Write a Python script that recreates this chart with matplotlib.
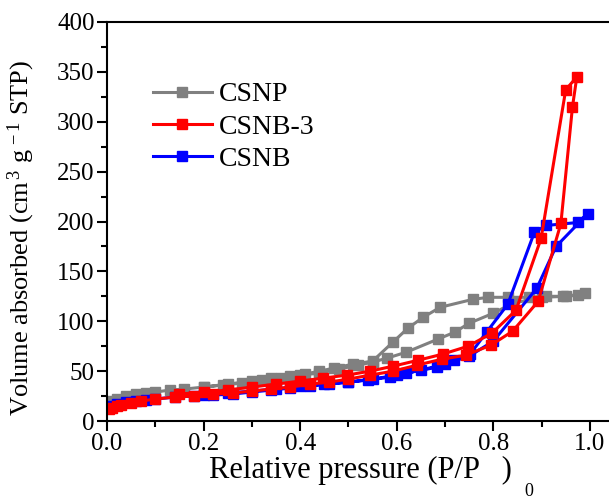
import numpy as np
import matplotlib
matplotlib.use('Agg')
import matplotlib.pyplot as plt

plt.rcParams['font.family'] = ['Liberation Serif', 'DejaVu Serif']
plt.rcParams['mathtext.fontset'] = 'custom'
plt.rcParams['mathtext.rm'] = 'Liberation Serif'
plt.rcParams['mathtext.it'] = 'Liberation Serif:italic'

# CSNP (gray): adsorption then desorption
csnp_ads_p = [0.005, 0.01, 0.02, 0.04, 0.06, 0.08, 0.10, 0.13, 0.16, 0.20, 0.24, 0.28, 0.32, 0.36,
              0.40, 0.44, 0.48, 0.52, 0.55, 0.58, 0.62, 0.685, 0.72, 0.75, 0.80, 0.84, 0.90, 0.95, 0.99]
csnp_ads_v = [18, 20, 22, 25, 27, 28, 29, 31, 32, 34, 36, 38, 41, 43,
              46, 48, 52, 56, 59, 63, 69, 82, 89, 98, 108, 118, 124, 125, 128]
csnp_des_p = [0.975, 0.945, 0.91, 0.875, 0.83, 0.79, 0.758, 0.69, 0.655, 0.623, 0.592, 0.55, 0.51,
              0.47, 0.44, 0.41, 0.38, 0.34, 0.30, 0.25, 0.20]
csnp_des_v = [126, 125, 125, 124, 124, 124, 122, 114, 104, 93, 79, 60, 57,
              53, 50, 47, 45, 43, 40, 37, 34]

# CSNB-3 (red)
csnb3_ads_p = [0.005, 0.01, 0.02, 0.03, 0.05, 0.07, 0.10, 0.14, 0.18, 0.22, 0.26, 0.30, 0.34, 0.38,
               0.42, 0.46, 0.50, 0.545, 0.593, 0.642, 0.694, 0.743, 0.795, 0.84, 0.893, 0.94, 0.964, 0.973]
csnb3_ads_v = [12, 13, 15, 16, 18, 20, 22, 24, 25, 27, 28, 30, 32, 34,
               37, 39, 42, 46, 50, 56, 62, 66, 76, 90, 120, 198, 315, 345]
csnb3_des_p = [0.95, 0.899, 0.847, 0.797, 0.748, 0.695, 0.645, 0.593, 0.545, 0.497, 0.448, 0.40,
               0.35, 0.30, 0.25, 0.20, 0.15]
csnb3_des_v = [332, 183, 111, 88, 75, 67, 61, 55, 50, 46, 43, 40, 37, 34, 31, 29, 27]

# CSNB (blue)
csnb_ads_p = [0.005, 0.01, 0.02, 0.04, 0.06, 0.08, 0.10, 0.14, 0.18, 0.22, 0.26, 0.30, 0.34, 0.38,
              0.42, 0.46, 0.50, 0.54, 0.586, 0.62, 0.684, 0.718, 0.752, 0.786, 0.83, 0.885, 0.909,
              0.975, 0.996]
csnb_ads_v = [13, 15, 17, 19, 20, 21, 22, 24, 25, 26, 27, 29, 31, 33,
              35, 37, 39, 41, 44, 48, 54, 61, 67, 89, 117, 189, 196, 199, 208]
csnb_des_p = [0.93, 0.89, 0.80, 0.75, 0.70, 0.65, 0.60, 0.55, 0.50, 0.45, 0.40, 0.35, 0.30, 0.25, 0.20]
csnb_des_v = [175, 133, 80, 65, 57, 51, 46, 42, 39, 37, 35, 32, 30, 28, 26]

fig = plt.figure(figsize=(6.09, 4.99), dpi=100)
ax = fig.add_axes([107/609, 1-421/499, 507/609, 399/499])

kw = dict(lw=2.2, marker='s', ms=6.5)
l1, = ax.plot(csnp_ads_p + csnp_des_p, csnp_ads_v + csnp_des_v, color='#808080', label='CSNP', **kw)
l3, = ax.plot(csnb_ads_p + csnb_des_p, csnb_ads_v + csnb_des_v, color='#0000ff', label='CSNB', **kw)
l2, = ax.plot(csnb3_ads_p + csnb3_des_p, csnb3_ads_v + csnb3_des_v, color='#ff0000', label='CSNB-3', **kw)

ax.set_xlim(0, 1.05)
ax.set_ylim(0, 400)
ax.set_xticks(np.arange(0, 1.01, 0.2))
ax.set_xticks(np.arange(0.1, 1.01, 0.2), minor=True)
ax.set_yticks(np.arange(0, 401, 50))
ax.set_yticks(np.arange(25, 400, 50), minor=True)
ax.xaxis.set_major_formatter(matplotlib.ticker.FormatStrFormatter('%.1f'))
ax.tick_params(which='both', direction='out', width=1.5, labelsize=18)
ax.tick_params(which='major', length=7, pad=2)
ax.tick_params(which='minor', length=4)
for s in ax.spines.values():
    s.set_linewidth(1.5)

ax.set_xlabel('Relative pressure (P/P   )', fontsize=22, labelpad=0)
ax.set_ylabel('Volume absorbed (cm$^{\\,3}$ g$^{\\,-1}$ STP)', fontsize=19)
ax.yaxis.set_label_coords(-0.138, 0.46)
fig.text(529/609, 1-492/499, '0', fontsize=13, ha='center', va='center')

ax.legend(handles=[l1, l2, l3], loc='upper left', bbox_to_anchor=(0.09, 0.85),
          frameon=False, fontsize=20, handlelength=2.15, handletextpad=0.25,
          labelspacing=0.25, borderpad=0, borderaxespad=0)

fig.savefig('out.png', dpi=100)
